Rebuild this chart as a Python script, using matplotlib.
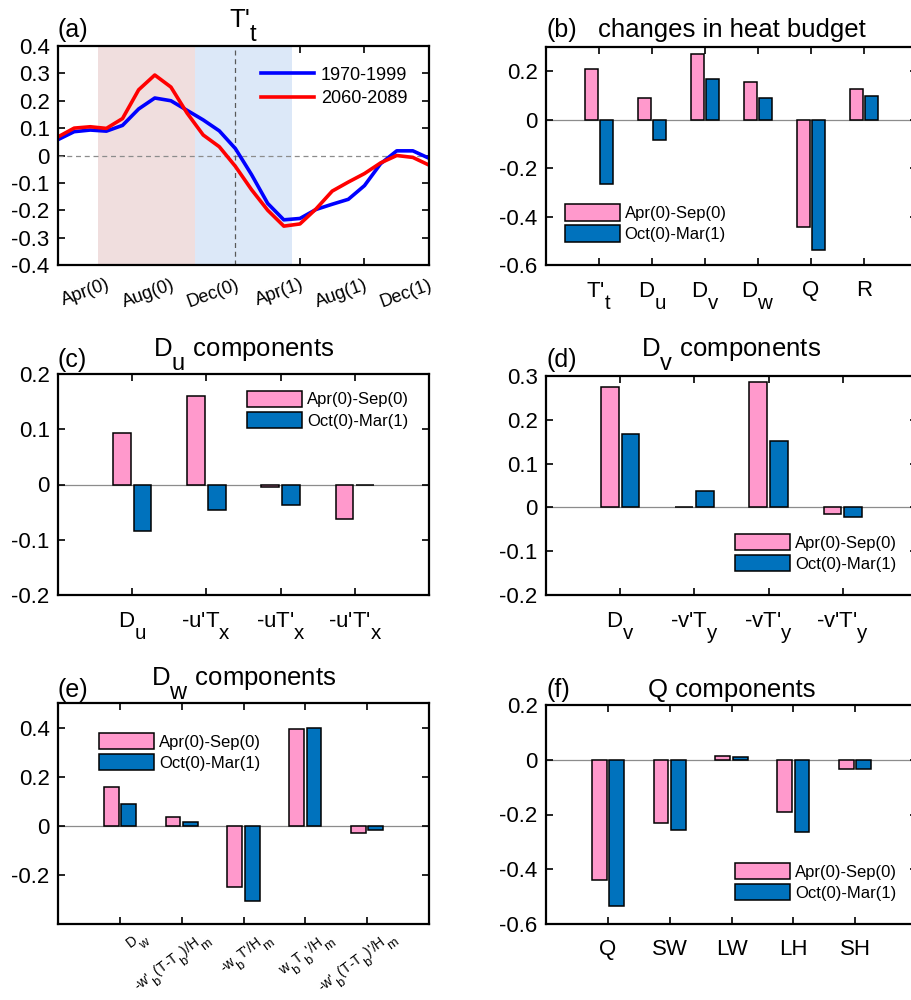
import numpy as np
import matplotlib.pyplot as plt
from matplotlib.ticker import FuncFormatter
from matplotlib.transforms import ScaledTranslation

plt.rcParams['font.family'] = 'Liberation Sans'
plt.rcParams['mathtext.fontset'] = 'custom'
plt.rcParams['mathtext.rm'] = 'Liberation Sans'
plt.rcParams['mathtext.it'] = 'Liberation Sans'
plt.rcParams['mathtext.default'] = 'regular'
plt.rcParams['axes.unicode_minus'] = False

# MATLAB-style subscripts: nearly full size and dropped below the baseline
try:
    import matplotlib._mathtext as _mt
    _mt.SHRINK_FACTOR = 0.92
    _mt.FontConstantsBase.sub1 = 1.0
except Exception:
    pass

# ---- data: panel (a), monthly T't composite, Jan(0)..Dec(1)
months = np.arange(1, 25)
tt_1970 = [0.058, 0.087, 0.093, 0.089, 0.110, 0.170, 0.210, 0.200, 0.165, 0.130, 0.090, 0.025,
           -0.070, -0.175, -0.235, -0.230, -0.197, -0.178, -0.160, -0.110, -0.030, 0.017, 0.017, -0.010]
tt_2060 = [0.068, 0.100, 0.105, 0.099, 0.135, 0.240, 0.294, 0.250, 0.155, 0.075, 0.032, -0.040,
           -0.125, -0.200, -0.258, -0.250, -0.195, -0.130, -0.097, -0.066, -0.027, 0.000, -0.007, -0.035]
month_ticks = [4, 8, 12, 16, 20, 24]
month_labels = ['Apr(0)', 'Aug(0)', 'Dec(0)', 'Apr(1)', 'Aug(1)', 'Dec(1)']
period_labels = ['1970-1999', '2060-2089']

season_labels = ['Apr(0)-Sep(0)', 'Oct(0)-Mar(1)']

# panel (b)
budget_terms = ["T'$_t$", 'D$_u$', 'D$_v$', 'D$_w$', 'Q', 'R']
budget_warm = [0.210, 0.090, 0.273, 0.155, -0.444, 0.125]
budget_cold = [-0.266, -0.085, 0.166, 0.088, -0.537, 0.096]

# panel (c)
du_terms = ['D$_u$', "-u'T$_x$", "-uT'$_x$", "-u'T'$_x$"]
du_warm = [0.093, 0.161, -0.004, -0.063]
du_cold = [-0.084, -0.046, -0.037, -0.001]

# panel (d)
dv_terms = ['D$_v$', "-v'T$_y$", "-vT'$_y$", "-v'T'$_y$"]
dv_warm = [0.274, 0.001, 0.286, -0.014]
dv_cold = [0.167, 0.037, 0.151, -0.023]

# panel (e)
dw_terms = ['D$_w$', "-w'$_b$(T-T$_b$)/H$_m$", "-w$_b$T'/H$_m$", "w$_b$T$_b$'/H$_m$",
            "-w'$_b$(T-T$_b$)'/H$_m$"]
dw_warm = [0.156, 0.034, -0.248, 0.394, -0.028]
dw_cold = [0.090, 0.014, -0.306, 0.397, -0.019]

# panel (f)
q_terms = ['Q', 'SW', 'LW', 'LH', 'SH']
q_warm = [-0.440, -0.232, 0.015, -0.190, -0.032]
q_cold = [-0.535, -0.258, 0.011, -0.263, -0.032]

PINK = '#FF99CC'
BLUE = '#0072BD'
W = 371 / 912

fig = plt.figure(figsize=(9.12, 10), dpi=100)


def style_axes(ax):
    ax.tick_params(direction='in', top=True, right=True, length=5, width=1.2,
                   labelsize=16, pad=6)
    for sp in ax.spines.values():
        sp.set_linewidth(1.6)
        sp.set_zorder(5)
    ax.yaxis.set_major_formatter(FuncFormatter(lambda v, p: '%g' % (round(v, 3) + 0.0)))


def head(ax, label, title, h_px, lab_off, title_off):
    ax.text(0, 1 + lab_off / h_px, label, transform=ax.transAxes, ha='left',
            va='baseline', fontsize=18)
    ax.text(0.5, 1 + title_off / h_px, title, transform=ax.transAxes, ha='center',
            va='baseline', fontsize=18.5)


def bar_panel(rect, labels, warm, cold, xmax, ylim, yticks, leg_xy):
    ax = fig.add_axes(rect)
    x = np.arange(1, len(labels) + 1)
    ax.axhline(0, color='0.55', lw=0.9, zorder=1)
    ax.bar(x - 0.14, warm, 0.24, color=PINK, edgecolor='k', linewidth=1.1,
           label=season_labels[0], zorder=3)
    ax.bar(x + 0.14, cold, 0.24, color=BLUE, edgecolor='k', linewidth=1.1,
           label=season_labels[1], zorder=3)
    ax.set_xlim(0, xmax)
    ax.set_ylim(*ylim)
    ax.set_yticks(yticks)
    ax.set_xticks(x)
    ax.set_xticklabels(labels)
    style_axes(ax)
    ax.tick_params(axis='x', pad=11)
    ax.legend(loc='upper left', bbox_to_anchor=leg_xy, frameon=False, fontsize=12,
              handlelength=3.3, handleheight=1.15, handletextpad=0.3,
              labelspacing=0.25, borderpad=0, borderaxespad=0)
    return ax


# ---- (a)
ax = fig.add_axes([58 / 912, 0.735, W, 0.219])
ax.axvspan(3.5, 9.5, color='#F0DEDE', lw=0, zorder=2.6)
ax.axvspan(9.5, 15.5, color='#DCE8F8', lw=0, zorder=2.6)
ax.axhline(0, color='0.55', lw=0.9, ls='--', dashes=(4, 3), zorder=2.7)
ax.axvline(12, color='0.35', lw=0.9, ls='--', dashes=(4, 3), zorder=2.7)
ax.plot(months, tt_1970, color='#0000FF', lw=2.6, label=period_labels[0], zorder=3)
ax.plot(months, tt_2060, color='#FF0000', lw=2.6, label=period_labels[1], zorder=3)
ax.set_xlim(1, 24)
ax.set_ylim(-0.4, 0.4)
ax.set_yticks(np.arange(-0.4, 0.41, 0.1))
ax.set_xticks(month_ticks)
ax.set_xticklabels(month_labels, rotation=20, ha='right', rotation_mode='anchor')
style_axes(ax)
ax.tick_params(axis='x', labelsize=13, pad=8)
ax.legend(loc='upper left', bbox_to_anchor=(0.548, 0.905), frameon=False, fontsize=13,
          handlelength=2.9, handletextpad=0.4, labelspacing=0.35, borderpad=0,
          borderaxespad=0)
head(ax, '(a)', "T'$_t$", 219, 9, 19)

# ---- (b)
ax = bar_panel([546 / 912, 0.735, W, 0.218], budget_terms, budget_warm, budget_cold,
               7, (-0.6, 0.3), [-0.6, -0.4, -0.2, 0, 0.2], (0.05, 0.28))
head(ax, '(b)', 'changes in heat budget', 218, 10, 10)

# ---- (c)
ax = bar_panel([58 / 912, 0.405, W, 0.221], du_terms, du_warm, du_cold,
               5, (-0.2, 0.2), [-0.2, -0.1, 0, 0.1, 0.2], (0.51, 0.925))
head(ax, '(c)', 'D$_u$ components', 221, 7, 18)

# ---- (d)
ax = bar_panel([546 / 912, 0.405, W, 0.219], dv_terms, dv_warm, dv_cold,
               5, (-0.2, 0.3), [-0.2, -0.1, 0, 0.1, 0.2, 0.3], (0.51, 0.28))
head(ax, '(d)', 'D$_v$ components', 219, 9, 20)

# ---- (e)
ax = bar_panel([58 / 912, 0.076, W, 0.221], dw_terms, dw_warm, dw_cold,
               6, (-0.4, 0.5), [-0.2, 0, 0.2, 0.4], (0.11, 0.865))
ax.set_xticklabels(dw_terms, rotation=37, ha='right', va='top', rotation_mode='anchor',
                   fontsize=10)
ax.tick_params(axis='x', pad=2)
for lbl in ax.get_xticklabels():
    lbl.set_transform(lbl.get_transform() + ScaledTranslation(0.2, 0, fig.dpi_scale_trans))
head(ax, '(e)', 'D$_w$ components', 221, 6, 18)

# ---- (f)
ax = bar_panel([546 / 912, 0.076, W, 0.219], q_terms, q_warm, q_cold,
               6, (-0.6, 0.2), [-0.6, -0.4, -0.2, 0, 0.2], (0.51, 0.28))
head(ax, '(f)', 'Q components', 219, 8, 8)

fig.savefig('out.png', dpi=100)
